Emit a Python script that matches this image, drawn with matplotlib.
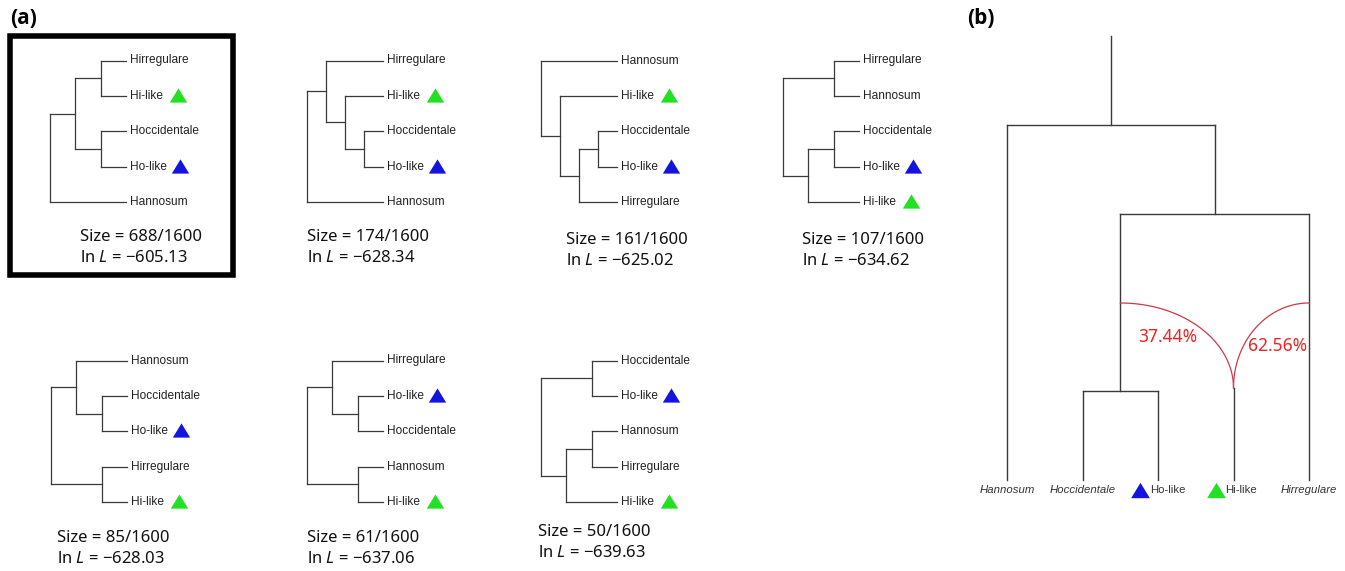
import numpy as np
import matplotlib
matplotlib.use("Agg")
import matplotlib.pyplot as plt

plt.rcParams['font.family'] = ['Noto Sans', 'DejaVu Sans']
plt.rcParams['mathtext.fontset'] = 'custom'
plt.rcParams['mathtext.rm'] = 'Noto Sans'
plt.rcParams['mathtext.it'] = 'Noto Sans:italic'

# Tree topologies for panel (a), ordered by frequency
trees = [
    ((("Hirregulare", "Hi-like"), ("Hoccidentale", "Ho-like")), "Hannosum"),
    (("Hirregulare", ("Hi-like", ("Hoccidentale", "Ho-like"))), "Hannosum"),
    ("Hannosum", ("Hi-like", (("Hoccidentale", "Ho-like"), "Hirregulare"))),
    (("Hirregulare", "Hannosum"), (("Hoccidentale", "Ho-like"), "Hi-like")),
    (("Hannosum", ("Hoccidentale", "Ho-like")), ("Hirregulare", "Hi-like")),
    (("Hirregulare", ("Ho-like", "Hoccidentale")), ("Hannosum", "Hi-like")),
    (("Hoccidentale", "Ho-like"), (("Hannosum", "Hirregulare"), "Hi-like")),
]
sizes = [688, 174, 161, 107, 85, 61, 50]
total = 1600
lnL = [-605.13, -628.34, -625.02, -634.62, -628.03, -637.06, -639.63]

# panel (b): network
b_leaves = ["Hannosum", "Hoccidentale", "Ho-like", "Hi-like", "Hirregulare"]
hybrid_pct = [37.44, 62.56]

# layout of the small trees (pixels)
root_x = [50, 307, 541, 783, 51, 307, 541]
top_y = [60.5, 60.5, 60.5, 60.5, 360.5, 360.5, 360.5]
text_x = [80, 307, 566, 802, 57, 307, 538]
text_y = [237, 237, 240, 240, 538, 538, 532]
W = 76
DY = 35.4

marker_col = {"Hi-like": "#22e022", "Ho-like": "#1414e0"}
tri = [(-1, -0.82), (1, -0.82), (0, 0.82), (-1, -0.82)]
lc = "#3a3a3a"


def height(node):
    if isinstance(node, str):
        return 0
    return 1 + max(height(c) for c in node)


def draw_tree(ax, tree, x0, y0):
    H = height(tree)
    step = W / H
    leaves = []

    def rec(node):
        if isinstance(node, str):
            y = y0 + len(leaves) * DY
            leaves.append((node, y))
            return x0 + W, y
        x = x0 + (H - height(node)) * step
        pts = [rec(c) for c in node]
        ys = [p[1] for p in pts]
        ax.plot([x, x], [min(ys), max(ys)], color=lc, lw=0.9)
        for cx, cy in pts:
            ax.plot([x, cx], [cy, cy], color=lc, lw=0.9)
        return x, (min(ys) + max(ys)) / 2

    rec(tree)
    for name, y in leaves:
        ax.text(x0 + W + 4, y, name, fontsize=8.6, family='Liberation Sans',
                color="#222222", va='center', ha='left')
        if name in marker_col:
            off = 48 if name == "Hi-like" else 50
            ax.plot(x0 + W + 4 + off, y - 1, marker=tri, ms=12.5,
                    color=marker_col[name], mec='none')


fig = plt.figure(figsize=(13.45, 5.71), dpi=100)
ax = fig.add_axes([0, 0, 1, 1])
ax.set_xlim(0, 1345)
ax.set_ylim(571, 0)
ax.axis('off')

for i, t in enumerate(trees):
    draw_tree(ax, t, root_x[i], top_y[i])
    ax.text(text_x[i], text_y[i], "Size = %d/%d" % (sizes[i], total),
            fontsize=12, va='center', ha='left', color="#111111")
    ax.text(text_x[i], text_y[i] + 21,
            r"ln $L$ = " + ("%.2f" % lnL[i]).replace("-", "\u2212"),
            fontsize=12, va='center', ha='left', color="#111111")

# box around the best tree
ax.add_patch(plt.Rectangle((9.5, 36), 223, 239, fill=False, lw=4, ec='black'))

ax.text(10, 18, "(a)", fontsize=15, fontweight='bold', va='center',
        ha='left', family='Open Sans')
ax.text(967, 18, "(b)", fontsize=15, fontweight='bold', va='center',
        ha='left', family='Open Sans')

# ---- panel (b) ----
bx = dict(zip(b_leaves, np.linspace(1007, 1309, len(b_leaves))))
y_leaf = 480
y_root = 125
y_n2 = 214
y_cherry = 391
y_hyb = 303
y_hi = 388
blw = 1.0

x_ch = (bx["Hoccidentale"] + bx["Ho-like"]) / 2
x_n2 = (x_ch + bx["Hirregulare"]) / 2
x_root = (bx["Hannosum"] + x_n2) / 2

ax.plot([x_root, x_root], [36, y_root], color=lc, lw=blw)
ax.plot([bx["Hannosum"], x_n2], [y_root, y_root], color=lc, lw=blw)
ax.plot([bx["Hannosum"]] * 2, [y_root, y_leaf], color=lc, lw=blw)
ax.plot([x_n2, x_n2], [y_root, y_n2], color=lc, lw=blw)
ax.plot([x_ch, bx["Hirregulare"]], [y_n2, y_n2], color=lc, lw=blw)
ax.plot([x_ch, x_ch], [y_n2, y_cherry], color=lc, lw=blw)
ax.plot([bx["Hirregulare"]] * 2, [y_n2, y_leaf], color=lc, lw=blw)
ax.plot([bx["Hoccidentale"], bx["Ho-like"]], [y_cherry, y_cherry], color=lc, lw=blw)
ax.plot([bx["Hoccidentale"]] * 2, [y_cherry, y_leaf], color=lc, lw=blw)
ax.plot([bx["Ho-like"]] * 2, [y_cherry, y_leaf], color=lc, lw=blw)
ax.plot([bx["Hi-like"]] * 2, [y_hi, y_leaf], color=lc, lw=blw)

# hybrid edges (quarter ellipses)
t = np.linspace(0, np.pi / 2, 100)
xh = bx["Hi-like"]
for xs in (x_ch, bx["Hirregulare"]):
    a = xh - xs
    b = y_hi - y_hyb
    ax.plot(xs + a * np.sin(t), y_hi - b * np.cos(t), color="#cc3a48", lw=0.9)

ax.text(1168, 337, "%.2f%%" % hybrid_pct[0], fontsize=12.5, color="#ee2222",
        ha='center', va='center')
ax.text(1278, 346, "%.2f%%" % hybrid_pct[1], fontsize=12.5, color="#ee2222",
        ha='center', va='center')

for name in b_leaves:
    x = bx[name]
    if name in marker_col:
        ax.plot(x - 18, 490, marker=tri, ms=13.5, color=marker_col[name], mec='none')
        ax.text(x - 8, 490, name, fontsize=8.2, family='Liberation Sans',
                color="#333333", ha='left', va='center')
    else:
        ax.text(x, 490, name, fontsize=8.2, family='Liberation Sans',
                style='italic', color="#333333", ha='center', va='center')

fig.savefig("out.png", dpi=100)
